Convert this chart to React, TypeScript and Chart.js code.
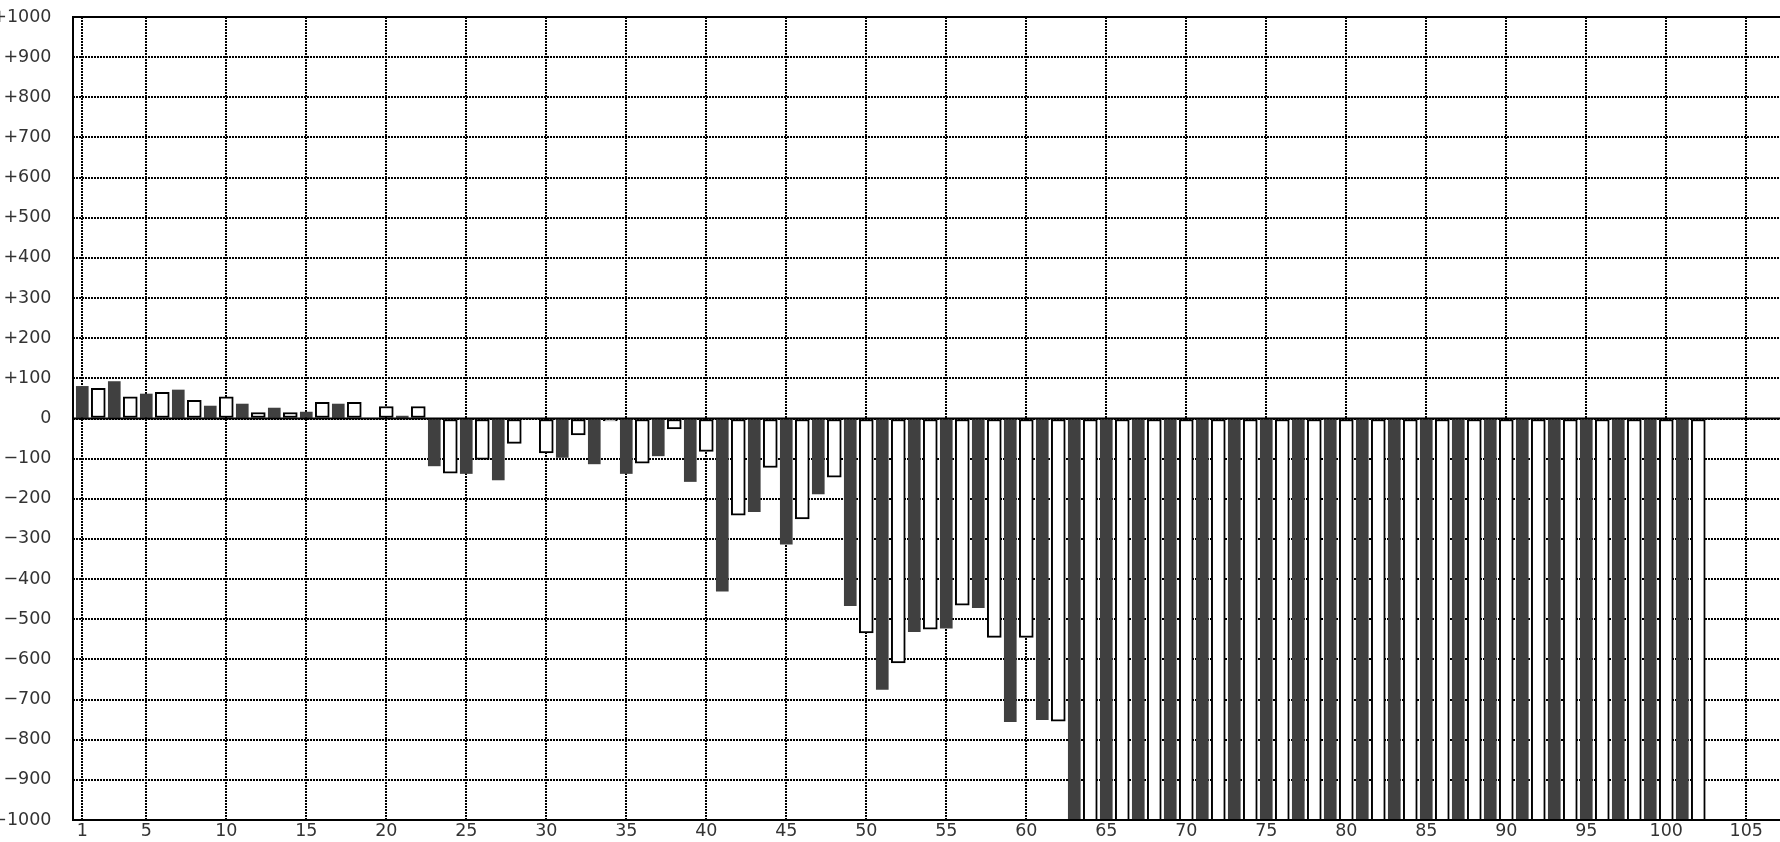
import React, { useEffect, useRef } from "react";
import { Chart, registerables } from "chart.js";

Chart.register(...registerables);

// Odd-numbered bars (dark filled)
const DARK_X = [1,3,5,7,9,11,13,15,17,19,21,23,25,27,29,31,33,35,37,39,41,43,45,47,49,51,53,55,57,59,61,63,65,67,69,71,73,75,77,79,81,83,85,87,89,91,93,95,97,99,101];
const DARK_Y = [80,92,61,71,31,36,26,16,36,0,6,-118,-137,-153,0,-97,-113,-137,-93,-157,-430,-232,-313,-188,-466,-675,-531,-522,-471,-755,-750,
  -1200,-1200,-1200,-1200,-1200,-1200,-1200,-1200,-1200,-1200,-1200,-1200,-1200,-1200,-1200,-1200,-1200,-1200,-1200,-1200];

// Even-numbered bars (white outlined)
const WHITE_X = [2,4,6,8,10,12,14,16,18,20,22,24,26,28,30,32,34,36,38,40,42,44,46,48,50,52,54,56,58,60,62,64,66,68,70,72,74,76,78,80,82,84,86,88,90,92,94,96,98,100,102];
const WHITE_Y = [75,54,65,45,54,15,15,40,40,30,30,-136,-102,-62,-86,-41,-6,-111,-26,-82,-241,-122,-250,-146,-534,-609,-525,-465,-545,-545,-754,
  -1200,-1200,-1200,-1200,-1200,-1200,-1200,-1200,-1200,-1200,-1200,-1200,-1200,-1200,-1200,-1200,-1200,-1200,-1200,-1200];

const X_TICKS = [1,5,10,15,20,25,30,35,40,45,50,55,60,65,70,75,80,85,90,95,100,105];
const Y_MIN = -1000;
const Y_MAX = 1000;
const Y_STEP = 100;

const FONT = { family: "'DejaVu Sans', sans-serif", size: 17.5 };

export default function App() {
  const ref = useRef<HTMLCanvasElement | null>(null);

  useEffect(() => {
    const canvas = ref.current;
    if (!canvas) return;

    const framePlugin = {
      id: "frameAndZero",
      afterDatasetsDraw(chart: any) {
        const { ctx, chartArea } = chart;
        const y0 = chart.scales.y.getPixelForValue(0);
        ctx.save();
        ctx.strokeStyle = "#000";
        ctx.lineWidth = 2;
        ctx.setLineDash([]);
        ctx.beginPath();
        ctx.moveTo(chartArea.left, y0);
        ctx.lineTo(chartArea.right, y0);
        // frame: top, left, bottom
        ctx.moveTo(chartArea.right, chartArea.top);
        ctx.lineTo(chartArea.left, chartArea.top);
        ctx.lineTo(chartArea.left, chartArea.bottom);
        ctx.lineTo(chartArea.right, chartArea.bottom);
        ctx.stroke();
        ctx.restore();
      },
    };

    const chart = new Chart(canvas, {
      type: "bar",
      data: {
        datasets: [
          {
            data: DARK_X.map((x, i) => ({ x, y: DARK_Y[i] })),
            backgroundColor: "#404040",
            borderWidth: 0,
            barThickness: 12,
            grouped: false,
            clip: 0,
          } as any,
          {
            data: WHITE_X.map((x, i) => ({ x, y: WHITE_Y[i] })),
            backgroundColor: "#ffffff",
            borderColor: "#000000",
            borderWidth: 2,
            borderSkipped: false,
            barThickness: 14,
            grouped: false,
            clip: 0,
          } as any,
        ],
      },
      options: {
        responsive: false,
        animation: false,
        events: [],
        layout: { padding: { top: 17, right: 19, left: 0, bottom: 0 } },
        plugins: {
          legend: { display: false },
          tooltip: { enabled: false },
        },
        scales: {
          x: {
            type: "linear",
            offset: false,
            min: 0.42,
            max: 108.42,
            afterBuildTicks: (scale: any) => {
              scale.ticks = X_TICKS.map((v) => ({ value: v }));
            },
            afterFit: (scale: any) => {
              scale.height = 22;
              scale.paddingLeft = 0;
              scale.paddingRight = 0;
            },
            grid: {
              color: "#000",
              lineWidth: 2,
              drawTicks: false,
              offset: false,
            },
            border: { display: false, dash: [2, 1] },
            ticks: {
              font: FONT,
              color: "#333",
              padding: 1,
              maxRotation: 0,
              autoSkip: false,
              callback: (v: any) => String(v),
            },
          },
          y: {
            type: "linear",
            min: Y_MIN,
            max: Y_MAX,
            afterFit: (scale: any) => {
              scale.width = 93;
              scale.paddingTop = 0;
              scale.paddingBottom = 0;
            },
            grid: {
              color: "#000",
              lineWidth: 2,
              drawTicks: false,
            },
            border: { display: false, dash: [2, 1] },
            ticks: {
              stepSize: Y_STEP,
              font: FONT,
              color: "#333",
              padding: 21.5,
              autoSkip: false,
              callback: (v: any) => {
                const n = Number(v);
                if (n > 0) return "+" + n;
                if (n < 0) return "\u2212" + Math.abs(n);
                return "0";
              },
            },
          },
        },
      } as any,
      plugins: [framePlugin],
    });

    return () => chart.destroy();
  }, []);

  return (
    <div
      style={{
        position: "fixed",
        left: 0,
        top: 0,
        width: 1780,
        height: 842,
        overflow: "hidden",
        background: "#fff",
      }}
    >
      <canvas
        ref={ref}
        width={1840}
        height={842}
        style={{ position: "absolute", left: -20, top: 0, width: 1840, height: 842 }}
      />
    </div>
  );
}
